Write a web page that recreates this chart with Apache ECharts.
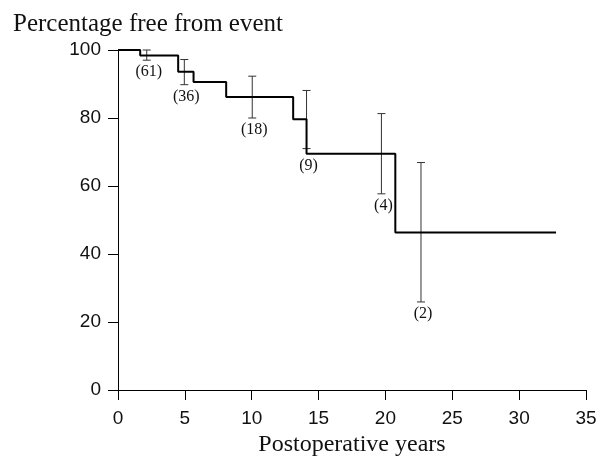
<!DOCTYPE html>
<html>
<head>
<meta charset="utf-8">
<script src="https://cdn.jsdelivr.net/npm/echarts@6/dist/echarts.min.js"></script>
<style>
  html, body { margin: 0; padding: 0; background: #fff; }
  #chart { width: 600px; height: 458px; }
</style>
</head>
<body>
<div id="chart"></div>
<script>
// Kaplan-Meier step curve
var stepYears = [0, 1.66, 4.5, 5.65, 8.09, 13.1, 14.1, 20.74, 32.76];
var stepSurvival = [100, 98.4, 93.6, 90.6, 86.2, 79.6, 69.5, 46.3, 46.3];

// confidence bars with numbers at risk
var barYears = [2.15, 4.96, 10.04, 14.1, 19.7, 22.66];
var barUpper = [100, 97.2, 92.3, 88.1, 81.3, 66.9];
var barLower = [97.0, 89.8, 80.0, 71.0, 57.7, 25.9];
var barLabels = ['(61)', '(36)', '(18)', '(9)', '(4)', '(2)'];

var xTicks = [0, 35, 5];   // min, max, interval
var yTicks = [0, 100, 20];

var serif = '"Liberation Serif", "DejaVu Serif", serif';
var sans = '"Liberation Sans", Arial, sans-serif';

function survivalAt(t) {
    var v = stepSurvival[0];
    for (var i = 0; i < stepYears.length; i++) {
        if (stepYears[i] <= t) v = stepSurvival[i];
    }
    return v;
}

var stepData = stepYears.map(function (x, i) { return [x, stepSurvival[i]]; });
// label sits under whichever is lower: the bar end or the curve
var barData = barYears.map(function (x, i) {
    return [x, barUpper[i], barLower[i], Math.min(barLower[i], survivalAt(x)), barLabels[i]];
});

function renderBar(params, api) {
    var top = api.coord([api.value(0), api.value(1)]);
    var bot = api.coord([api.value(0), api.value(2)]);
    var anchor = api.coord([api.value(0), api.value(3)]);
    var half = 4;
    var st = { stroke: '#333', lineWidth: 1 };
    return {
        type: 'group',
        children: [
            { type: 'line', shape: { x1: top[0], y1: top[1], x2: bot[0], y2: bot[1] }, style: st },
            { type: 'line', shape: { x1: top[0] - half, y1: top[1], x2: top[0] + half, y2: top[1] }, style: st },
            { type: 'line', shape: { x1: bot[0] - half, y1: bot[1], x2: bot[0] + half, y2: bot[1] }, style: st },
            {
                type: 'text',
                style: {
                    text: api.value(4),
                    x: anchor[0] + 2,
                    y: anchor[1] + 4,
                    align: 'center',
                    verticalAlign: 'top',
                    font: '16px ' + serif,
                    fill: '#111'
                }
            }
        ]
    };
}

var chart = echarts.init(document.getElementById('chart'));
var option = {
    animation: false,
    backgroundColor: '#fff',
    title: {
        text: 'Percentage free from event',
        left: 8,
        top: 7,
        textStyle: { fontFamily: serif, fontSize: 25, fontWeight: 'normal', color: '#111' }
    },
    grid: { left: 118, right: 14, top: 50, bottom: 68, outerBoundsMode: 'none', containLabel: false },
    xAxis: {
        type: 'value',
        min: xTicks[0],
        max: xTicks[1],
        interval: xTicks[2],
        name: 'Postoperative years',
        nameLocation: 'middle',
        nameGap: 37,
        nameTextStyle: { fontFamily: serif, fontSize: 24, color: '#111' },
        axisLine: { lineStyle: { color: '#000', width: 1 } },
        axisTick: { length: 10, lineStyle: { color: '#000' } },
        axisLabel: { margin: 19, fontFamily: sans, fontSize: 19, color: '#111' },
        splitLine: { show: false }
    },
    yAxis: {
        type: 'value',
        min: yTicks[0],
        max: yTicks[1],
        interval: yTicks[2],
        axisLine: { show: true, lineStyle: { color: '#000', width: 1 } },
        axisTick: { show: true, length: 10, lineStyle: { color: '#000' } },
        axisLabel: { margin: 17, fontFamily: sans, fontSize: 19, color: '#111' },
        splitLine: { show: false }
    },
    series: [
        {
            type: 'line',
            step: 'end',
            data: stepData,
            symbol: 'none',
            lineStyle: { color: '#000', width: 2 },
            z: 3
        },
        {
            type: 'custom',
            renderItem: renderBar,
            data: barData,
            encode: { x: 0, y: [1, 2] },
            z: 2
        }
    ]
};
chart.setOption(option);
</script>
</body>
</html>
